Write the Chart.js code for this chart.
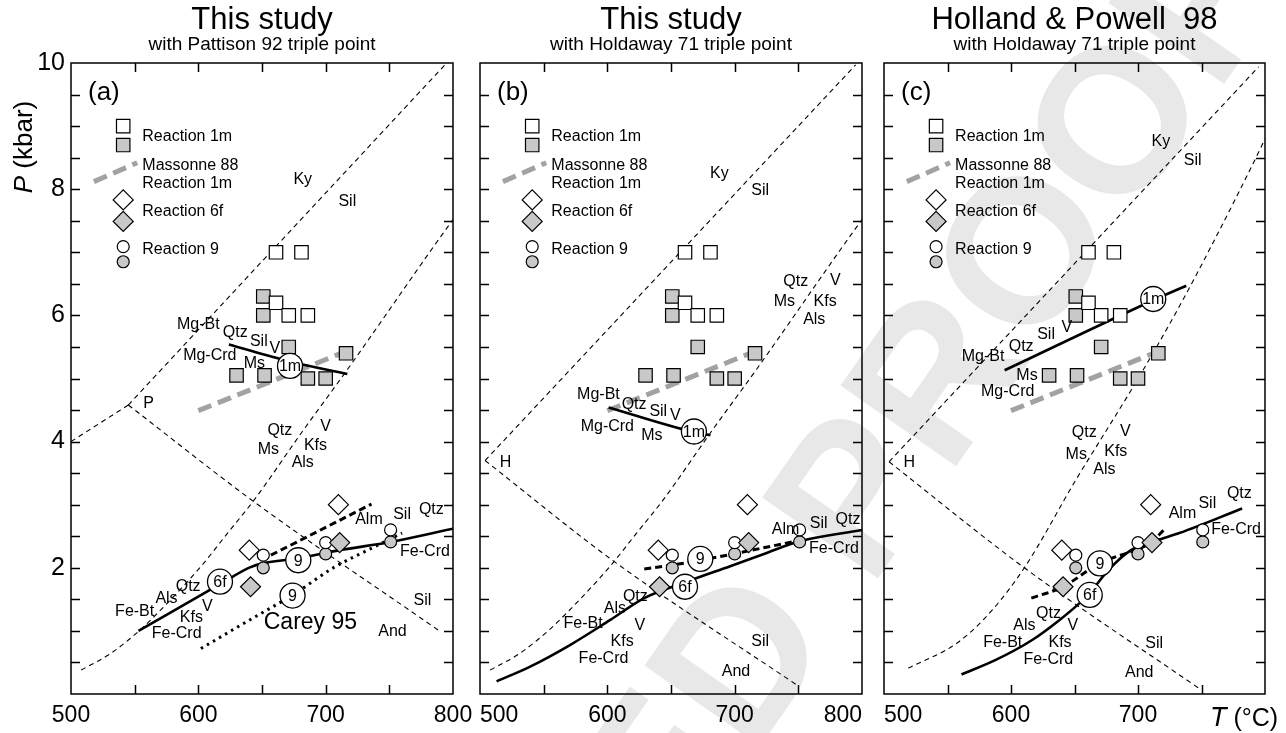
<!DOCTYPE html>
<html>
<head>
<meta charset="utf-8">
<title>P-T diagrams</title>
<script src="https://cdn.jsdelivr.net/npm/chart.js@4.4.1/dist/chart.umd.min.js"></script>
<style>
  html, body { margin: 0; padding: 0; background: #fff; }
  #wrap { position: relative; width: 1286px; height: 733px; }
  #wrap canvas { position: absolute; left: 0; top: 0; }
</style>
</head>
<body>
<div id="wrap">
  <canvas id="panelA" width="1286" height="733"></canvas>
  <canvas id="panelB" width="1286" height="733"></canvas>
  <canvas id="panelC" width="1286" height="733"></canvas>
</div>
<script>
// axis ticks
const T_LABELS = [500, 600, 700, 800];
const P_LABELS = [2, 4, 6, 8, 10];

// experiments, [T degC, P kbar] - same in every panel
const R1M_OPEN = [[661, 7.0], [681, 7.0], [661, 6.2], [671, 6.0], [686, 6.0]];
const R1M_GRAY = [[651, 6.3], [651, 6.0], [671, 5.5], [630, 5.05], [652, 5.05], [686, 5.0], [700, 5.0], [716, 5.4]];
const R6F_OPEN = [[640, 2.28], [710, 3.0]];
const R6F_GRAY = [[641, 1.7], [711, 2.4]];
const R9_OPEN = [[651, 2.2], [700, 2.4], [751, 2.6]];
const R9_GRAY = [[651, 2.0], [700, 2.22], [751, 2.41]];
const MASSONNE_88 = [[600, 4.49], [716, 5.43]];

// in-plot legend
const KEY_OPEN_SQ = [[541, 9.0]];
const KEY_GRAY_SQ = [[541, 8.7]];
const KEY_MASSONNE = [[518, 8.12], [552, 8.42]];
const KEY_OPEN_DI = [[541, 7.83]];
const KEY_GRAY_DI = [[541, 7.49]];
const KEY_OPEN_CI = [[541, 7.09]];
const KEY_GRAY_CI = [[541, 6.85]];
const KEY_TEXT = [['Reaction 1m', 556, 8.84], ['Massonne 88', 556, 8.38], ['Reaction 1m', 556, 8.09],
  ['Reaction 6f', 556, 7.64], ['Reaction 9', 556, 7.04]];

// muscovite + quartz breakdown (panels a, b)
const MS_OUT_AB = [[508, 0.38], [531, 0.64], [554, 1.01], [578, 1.49], [602, 2.02], [623, 2.55], [644, 3.08],
  [681, 4.14], [717, 5.14], [783, 7.04], [800, 7.52]];
const MS_OUT_C = [[519, 0.41], [557, 0.8], [583, 1.28], [610.5, 2.0], [651, 3.39], [701, 5.03], [732.5, 6.14],
  [757.5, 7.09], [797, 8.67], [800, 8.8]];

// panel a: Pattison 92 triple point
const KY_SIL_A = [[545, 4.58], [795, 10.0]];
const KY_AND_A = [[500, 4.0], [545, 4.58]];
const AND_SIL_A = [[545, 4.58], [643.5, 3.05], [790, 0.99]];
const R1M_LINE_A = [[624, 5.54], [672, 5.27], [717, 5.07]];
const R6F_LINE_A = [[553, 1.0], [617, 1.74], [641, 2.01], [651, 2.07], [678, 2.15], [711, 2.28], [751, 2.41], [800, 2.62]];
const R9_LINE_A = [[657, 2.2], [736, 3.01]];
const CAREY_95 = [[602, 0.72], [640, 1.17], [675, 1.58], [706, 2.0], [735, 2.3], [760, 2.55]];
const CIRCLES_A = [['1m', 672, 5.2], ['9', 678.5, 2.12], ['6f', 617, 1.78], ['9', 674, 1.56]];
const LABELS_A = [
  ['Ky', 682, 8.15], ['Sil', 717, 7.8],
  ['Mg-Bt', 600, 5.85], ['Qtz', 629, 5.72], ['Sil', 647.5, 5.58], ['V', 660, 5.48], ['Mg-Crd', 609, 5.36], ['Ms', 644, 5.24],
  ['P', 561, 4.6],
  ['Qtz', 664, 4.18], ['V', 700, 4.23], ['Ms', 655, 3.88], ['Kfs', 692, 3.93], ['Als', 682, 3.67],
  ['Alm', 734, 2.77], ['Sil', 760, 2.85], ['Qtz', 783, 2.92], ['Fe-Crd', 778, 2.26],
  ['Qtz', 592, 1.71], ['Als', 575, 1.51], ['Fe-Bt', 550, 1.3], ['V', 607, 1.39], ['Kfs', 594.5, 1.21], ['Fe-Crd', 583, 0.95],
  ['Sil', 776, 1.48], ['And', 752.5, 0.99]
];
const BIG_LABELS_A = [['Carey 95', 688, 1.13]];

// panel b: this study, Holdaway 71
const KY_SIL_B = [[504, 3.7], [795, 9.97]];
const AND_SIL_B = [[504, 3.7], [604, 2.12], [749, 0.14]];
const R1M_LINE_B = [[601, 4.54], [668, 4.15], [681, 4.1]];
const R6F_LINE_B = [[513, 0.2], [539, 0.43], [571, 0.78], [602, 1.17], [629, 1.52], [661, 1.77], [697, 2.03],
  [723, 2.22], [749, 2.41], [800, 2.6]];
const R9_LINE_B = [[629, 1.98], [650, 2.04], [673, 2.12], [699, 2.22], [745, 2.41]];
const CIRCLES_B = [['1m', 668, 4.16], ['9', 673, 2.14], ['6f', 661, 1.7]];
const LABELS_B = [
  ['Ky', 688, 8.25], ['Sil', 720, 7.98],
  ['Qtz', 748, 6.53], ['V', 779, 6.55], ['Ms', 739, 6.22], ['Kfs', 771, 6.22], ['Als', 762.5, 5.93],
  ['Mg-Bt', 593, 4.74], ['Qtz', 621, 4.59], ['Sil', 640, 4.48], ['V', 653.5, 4.42], ['Mg-Crd', 600, 4.24], ['Ms', 635, 4.09],
  ['H', 520, 3.67],
  ['Alm', 740, 2.6], ['Sil', 766, 2.7], ['Qtz', 789, 2.77], ['Fe-Crd', 778, 2.31],
  ['Qtz', 622, 1.54], ['Als', 606, 1.36], ['Fe-Bt', 581, 1.12], ['V', 625.5, 1.08], ['Kfs', 611.6, 0.83], ['Fe-Crd', 597, 0.56],
  ['Sil', 720, 0.83], ['And', 701, 0.36]
];

// panel c: Holland & Powell 98
const KY_SIL_C = [[504, 3.68], [795, 9.94]];
const AND_SIL_C = [[504, 3.68], [610.5, 2.0], [748, 0.09]];
const R1M_LINE_C = [[595, 5.13], [712, 6.24], [738, 6.47]];
const R6F_LINE_C = [[561, 0.31], [588, 0.54], [617, 0.86], [638, 1.17], [654, 1.44], [662, 1.6], [677, 1.97],
  [694.5, 2.28], [715.5, 2.44], [732.5, 2.55], [782, 2.94]];
const R9_LINE_C = [[616, 1.52], [641, 1.7], [669.5, 2.07], [709, 2.39], [721, 2.61]];
const CIRCLES_C = [['1m', 712, 6.26], ['9', 670, 2.07], ['6f', 662, 1.57]];
const LABELS_C = [
  ['Ky', 718, 8.75], ['Sil', 743, 8.45],
  ['Mg-Bt', 578, 5.34], ['Qtz', 608, 5.51], ['Sil', 627.6, 5.69], ['V', 644, 5.8], ['Ms', 612.6, 5.04], ['Mg-Crd', 597.4, 4.79],
  ['H', 520, 3.67],
  ['Qtz', 657.7, 4.14], ['V', 690, 4.16], ['Ms', 651.4, 3.8], ['Kfs', 682.5, 3.84], ['Als', 673.5, 3.55],
  ['Alm', 735, 2.86], ['Sil', 754.6, 3.02], ['Qtz', 779.8, 3.17], ['Fe-Crd', 777.2, 2.61],
  ['Qtz', 629.5, 1.28], ['Als', 610.5, 1.08], ['V', 648.6, 1.09], ['Fe-Bt', 593.5, 0.82], ['Kfs', 638.6, 0.82], ['Fe-Crd', 629.4, 0.55],
  ['Sil', 712.8, 0.8], ['And', 701, 0.34]
];

const FONT = '"Liberation Sans", Arial, Helvetica, sans-serif';
const GRAY_FILL = '#c8c8c8';
const MASSONNE_GRAY = '#a2a2a2';

const pts = (arr) => arr.map(([x, y]) => ({ x, y }));

function lineDs(data, opt) {
  return Object.assign({
    data: pts(data),
    showLine: true,
    pointRadius: 0,
    borderColor: '#000',
    borderWidth: 1.1,
    fill: false,
    cubicInterpolationMode: 'monotone',
    order: 10,
  }, opt);
}

function markDs(data, style, radius, fill) {
  return {
    data: pts(data),
    showLine: false,
    pointStyle: style,
    pointRadius: radius,
    pointBackgroundColor: fill,
    pointBorderColor: '#000',
    pointBorderWidth: 1.2,
    order: 3,
  };
}

const THIN_DASH = { borderDash: [5, 4] };
const BOLD_DASH = { borderWidth: 3, borderDash: [7, 4], order: 6 };
const SOLID = { borderWidth: 2.6, order: 6 };
const MASS = { borderWidth: 5, borderDash: [14, 7], borderColor: MASSONNE_GRAY, order: 8 };

function commonDatasets(circles) {
  return [
    lineDs(MASSONNE_88, MASS),
    lineDs(KEY_MASSONNE, MASS),
    markDs(R1M_OPEN, 'rect', 9.5, '#fff'),
    markDs(R1M_GRAY, 'rect', 9.5, GRAY_FILL),
    markDs(R6F_OPEN, 'rectRot', 10, '#fff'),
    markDs(R6F_GRAY, 'rectRot', 10, GRAY_FILL),
    markDs(R9_OPEN, 'circle', 6, '#fff'),
    markDs(R9_GRAY, 'circle', 6, GRAY_FILL),
    markDs(KEY_OPEN_SQ, 'rect', 9.5, '#fff'),
    markDs(KEY_GRAY_SQ, 'rect', 9.5, GRAY_FILL),
    markDs(KEY_OPEN_DI, 'rectRot', 10, '#fff'),
    markDs(KEY_GRAY_DI, 'rectRot', 10, GRAY_FILL),
    markDs(KEY_OPEN_CI, 'circle', 6, '#fff'),
    markDs(KEY_GRAY_CI, 'circle', 6, GRAY_FILL),
    {
      data: circles.map(([, x, y]) => ({ x, y })),
      showLine: false,
      pointStyle: 'circle',
      pointRadius: 12.5,
      pointBackgroundColor: '#fff',
      pointBorderColor: '#000',
      pointBorderWidth: 1.3,
      order: 0,
    },
  ];
}

// frame, inward ticks, labels, titles
const decorPlugin = {
  id: 'decor',
  beforeDraw(chart, args, o) {
    if (!o.watermark) return;
    const ctx = chart.ctx;
    ctx.save();
    ctx.font = 'bold 205px ' + FONT;
    ctx.fillStyle = '#e8e8e8';
    ctx.textBaseline = 'alphabetic';
    ctx.translate(735, 655);
    ctx.rotate(-55 * Math.PI / 180);
    const pre = ctx.measureText('UNCORRECTE').width;
    const wD = ctx.measureText('D').width;
    ctx.fillText('UNCORRECTED PROOFS', -(pre + wD / 2), 73);
    ctx.restore();
  },
  afterDatasetsDraw(chart, args, o) {
    const { ctx, chartArea: a, scales: { x, y } } = chart;
    ctx.save();
    ctx.fillStyle = '#000';
    ctx.textBaseline = 'middle';

    ctx.font = '16px ' + FONT;
    ctx.textAlign = 'center';
    o.labels.forEach(([t, tx, py]) => ctx.fillText(t, x.getPixelForValue(tx), y.getPixelForValue(py)));
    o.circles.forEach(([t, tx, py]) => ctx.fillText(t, x.getPixelForValue(tx), y.getPixelForValue(py) + 1));
    ctx.font = '23px ' + FONT;
    (o.big || []).forEach(([t, tx, py]) => ctx.fillText(t, x.getPixelForValue(tx), y.getPixelForValue(py)));

    ctx.font = '16px ' + FONT;
    ctx.textAlign = 'left';
    KEY_TEXT.forEach(([t, tx, py]) => ctx.fillText(t, x.getPixelForValue(tx), y.getPixelForValue(py)));

    // panel letter
    ctx.font = '26px ' + FONT;
    ctx.textBaseline = 'alphabetic';
    ctx.fillText(o.letter, a.left + 17, a.top + 37);

    // frame and inward ticks
    ctx.strokeStyle = '#000';
    ctx.lineWidth = 1.5;
    ctx.strokeRect(a.left, a.top, a.right - a.left, a.bottom - a.top);
    const len = 9;
    ctx.beginPath();
    x.ticks.forEach((t) => {
      if (t.value <= x.min || t.value >= x.max) return;
      const px = Math.round(x.getPixelForValue(t.value)) + 0.5;
      ctx.moveTo(px, a.bottom); ctx.lineTo(px, a.bottom - len);
      ctx.moveTo(px, a.top); ctx.lineTo(px, a.top + len);
    });
    y.ticks.forEach((t) => {
      if (t.value <= y.min || t.value >= y.max) return;
      const py = Math.round(y.getPixelForValue(t.value)) + 0.5;
      ctx.moveTo(a.left, py); ctx.lineTo(a.left + len, py);
      ctx.moveTo(a.right, py); ctx.lineTo(a.right - len, py);
    });
    ctx.stroke();

    // titles
    const cx = (a.left + a.right) / 2;
    ctx.textAlign = 'center';
    ctx.font = '31px ' + FONT;
    ctx.fillText(o.title, cx, 29);
    ctx.font = '19px ' + FONT;
    ctx.fillText(o.subtitle, cx, 50);

    if (o.yTitle) {
      ctx.save();
      ctx.translate(32, 147);
      ctx.rotate(-Math.PI / 2);
      ctx.textAlign = 'left';
      ctx.font = 'italic 26px ' + FONT;
      const wP = ctx.measureText('P').width;
      ctx.font = '26px ' + FONT;
      const wRest = ctx.measureText(' (kbar)').width;
      const x0 = -(wP + wRest) / 2;
      ctx.font = 'italic 26px ' + FONT;
      ctx.fillText('P', x0, 0);
      ctx.font = '26px ' + FONT;
      ctx.fillText(' (kbar)', x0 + wP, 0);
      ctx.restore();
    }
    if (o.xTitle) {
      ctx.textAlign = 'left';
      ctx.font = 'italic 27px ' + FONT;
      ctx.fillText('T', 1210, 726);
      const wT = ctx.measureText('T').width;
      ctx.font = '25px ' + FONT;
      ctx.fillText(' (\u00B0C)', 1210 + wT, 726);
    }
    ctx.restore();
  },
};

function makePanel(id, cfg) {
  const datasets = cfg.lines.concat(commonDatasets(cfg.circles));
  return new Chart(document.getElementById(id), {
    type: 'scatter',
    data: { datasets },
    options: {
      responsive: false,
      animation: false,
      events: [],
      layout: { padding: { left: cfg.padLeft, right: cfg.padRight, top: 63, bottom: 3 } },
      plugins: {
        legend: { display: false },
        tooltip: { enabled: false },
        decor: {
          labels: cfg.labels,
          circles: cfg.circles,
          big: cfg.big,
          letter: cfg.letter,
          title: cfg.title,
          subtitle: cfg.subtitle,
          yTitle: cfg.yTitle,
          xTitle: cfg.xTitle,
          watermark: cfg.watermark,
        },
      },
      scales: {
        x: {
          type: 'linear',
          min: 500,
          max: 800,
          grid: { display: false, drawTicks: false },
          border: { display: false },
          afterFit: (s) => { s.height = 36; },
          ticks: {
            stepSize: 50,
            autoSkip: false,
            maxRotation: 0,
            padding: 8,
            align: cfg.xAlign,
            color: '#000',
            font: { family: FONT, size: 23 },
            callback: (v) => (T_LABELS.includes(v) && !(cfg.xTitle && v === 800) ? String(v) : ''),
          },
        },
        y: {
          type: 'linear',
          min: 0,
          max: 10,
          grid: { display: false, drawTicks: false },
          border: { display: false },
          afterFit: (s) => { s.width = cfg.yWidth; },
          ticks: {
            display: cfg.yLabels,
            stepSize: 0.5,
            autoSkip: false,
            padding: 6,
            color: '#000',
            font: { family: FONT, size: 25 },
            callback: (v) => (P_LABELS.includes(v) ? String(v) : ''),
          },
        },
      },
    },
    plugins: [decorPlugin],
  });
}

makePanel('panelA', {
  padLeft: 21, padRight: 1286 - 453, yWidth: 50, yLabels: true, xAlign: 'center',
  letter: '(a)', title: 'This study', subtitle: 'with Pattison 92 triple point',
  yTitle: true, watermark: true,
  labels: LABELS_A, circles: CIRCLES_A, big: BIG_LABELS_A,
  lines: [
    lineDs(KY_SIL_A, THIN_DASH), lineDs(KY_AND_A, THIN_DASH), lineDs(AND_SIL_A, THIN_DASH), lineDs(MS_OUT_AB, THIN_DASH),
    lineDs(R1M_LINE_A, SOLID), lineDs(R6F_LINE_A, SOLID), lineDs(R9_LINE_A, BOLD_DASH),
    lineDs(CAREY_95, { borderWidth: 3, borderDash: [2.5, 4.5], order: 6 }),
  ],
});

makePanel('panelB', {
  padLeft: 480, padRight: 1286 - 862, yWidth: 0, yLabels: false, xAlign: 'inner',
  letter: '(b)', title: 'This study', subtitle: 'with Holdaway 71 triple point',
  labels: LABELS_B, circles: CIRCLES_B,
  lines: [
    lineDs(KY_SIL_B, THIN_DASH), lineDs(AND_SIL_B, THIN_DASH), lineDs(MS_OUT_AB, THIN_DASH),
    lineDs(R1M_LINE_B, SOLID), lineDs(R6F_LINE_B, SOLID), lineDs(R9_LINE_B, BOLD_DASH),
  ],
});

makePanel('panelC', {
  padLeft: 884, padRight: 1286 - 1265, yWidth: 0, yLabels: false, xAlign: 'inner',
  letter: '(c)', title: 'Holland & Powell  98', subtitle: 'with Holdaway 71 triple point',
  xTitle: true,
  labels: LABELS_C, circles: CIRCLES_C,
  lines: [
    lineDs(KY_SIL_C, THIN_DASH), lineDs(AND_SIL_C, THIN_DASH), lineDs(MS_OUT_C, THIN_DASH),
    lineDs(R1M_LINE_C, SOLID), lineDs(R6F_LINE_C, SOLID), lineDs(R9_LINE_C, BOLD_DASH),
  ],
});
</script>
</body>
</html>
